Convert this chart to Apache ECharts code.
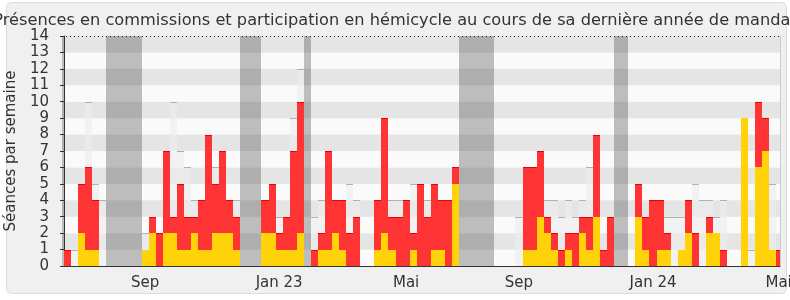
<!DOCTYPE html>
<html><head><meta charset="utf-8">
<script src="https://cdn.jsdelivr.net/npm/echarts@6/dist/echarts.min.js"></script>
<style>html,body{margin:0;padding:0;background:#fff}#c{width:790px;height:300px}</style>
</head><body><div id="c"></div>
<script>
// Weekly values (week index 0..101)
const hemicycle   = [0,0,2,1,1,0,0,0,0,0, 0,1,2,0,2,2,1,1,2,1, 1,2,2,2,1,0,0,0,2,2, 1,1,1,2,0,0,1,1,2,1, 0,0,0,0,1,2,1,0,0,1, 0,0,1,1,0,5,0,0,0,0, 0,0,0,0,0,1,1,3,2,1, 0,1,0,2,1,3,0,0,0,0, 0,3,1,0,1,1,0,1,2,0, 0,2,2,0,0,0,9,0,6,7, 1,0];
const commissions = [1,0,3,5,3,0,0,0,0,0, 0,0,1,2,5,1,4,2,1,3, 7,3,5,2,2,0,0,0,2,3, 1,2,6,8,0,1,1,6,2,3, 2,3,0,0,3,7,2,3,4,1, 5,3,4,3,4,1,0,0,0,0, 0,0,0,0,0,5,5,4,1,1, 1,1,2,1,2,5,1,3,0,0, 0,2,2,4,3,1,0,0,2,2, 0,1,0,1,0,0,0,0,4,2, 0,1];
const mediane     = [0,1,0,10,5,4,0,0,0,0, 0,2,0,0,0,10,7,6,4,0, 0,6,0,0,4,0,0,0,0,0, 3,0,9,12,0,3,4,0,0,0, 5,4,0,0,0,0,4,4,0,5, 0,4,0,0,0,0,0,0,0,0, 0,0,0,0,3,0,0,0,4,4, 3,4,3,4,6,0,0,0,0,0, 0,0,0,0,0,3,3,3,0,5, 4,4,3,4,0,0,0,1,0,0, 5,0];
// Vacation periods [start week, end week)
const vacationStart = [-1, 6, 25, 34, 56, 78];
const vacationEnd   = [ 0, 11, 28, 35, 61, 80];
// X tick labels at week indices
const tickWeeks  = [11, 30, 48, 64, 83, 101];
const tickLabels = ['Sep', 'Jan 23', 'Mai', 'Sep', 'Jan 24', 'Mai'];

const X_MIN = -0.28, X_MAX = 101.5;
const weeks = hemicycle.map((_, i) => i);
const FONT = 'DejaVu Sans';
const chart = echarts.init(document.getElementById('c'), null, {renderer: 'canvas'});

// label positions: centre of the week, kept inside the visible range
const tickPos = tickWeeks.map(k => Math.min(k + 0.5, X_MAX - 0.2));

function box(api, params, x0, x1, y0, y1) {
  const a = api.coord([x0, y1]), b = api.coord([x1, y0]);
  const cs = params.coordSys;
  const l = Math.round(a[0]), r = Math.round(b[0]), t = Math.round(a[1]), bt = Math.round(b[1]);
  return echarts.graphic.clipRectByRect(
    {x: l, y: t, width: r - l, height: bt - t},
    {x: cs.x, y: cs.y, width: cs.width, height: cs.height});
}

chart.setOption({
  animation: false,
  backgroundColor: 'transparent',
  graphic: [{
    type: 'rect', z: -10, silent: true,
    shape: {x: 6.5, y: 2.5, width: 780, height: 291, r: 5},
    style: {fill: '#F0F0F0', stroke: '#DCDCDC', lineWidth: 1}
  }],
  title: {
    text: 'Présences en commissions et participation en hémicycle au cours de sa dernière année de mandat',
    left: 'center', top: 8,
    textStyle: {fontFamily: FONT, fontSize: 16.2, fontWeight: 'normal', color: '#333'}
  },
  grid: {left: 62, right: 10, top: 36, bottom: 34, containLabel: false, outerBoundsMode: 'none'},
  xAxis: {
    type: 'value', min: X_MIN, max: X_MAX,
    axisLine: {show: true, onZero: false, lineStyle: {color: '#333', width: 1}},
    axisTick: {show: false},
    splitLine: {show: false},
    axisLabel: {
      customValues: tickPos,
      formatter: v => { const i = tickPos.findIndex(p => Math.abs(p - v) < 0.01); return i >= 0 ? tickLabels[i] : ''; },
      fontFamily: FONT, fontSize: 15, color: '#333', margin: 10,
      showMinLabel: true, showMaxLabel: true, hideOverlap: false
    }
  },
  yAxis: [{
    type: 'value', min: 0, max: 14, interval: 1,
    name: 'Séances par semaine', nameLocation: 'middle', nameGap: 39,
    nameTextStyle: {fontFamily: FONT, fontSize: 15, color: '#333'},
    axisLine: {show: true, lineStyle: {color: '#333', width: 1}},
    axisTick: {show: true, length: 4, lineStyle: {color: '#333'}},
    axisLabel: {fontFamily: FONT, fontSize: 15, color: '#333', margin: 13},
    splitLine: {show: false},
    splitArea: {show: true, areaStyle: {color: ['#FAFAFA', '#E5E5E5']}}
  }, {
    type: 'value', min: 0, max: 14, interval: 1, position: 'right',
    axisLine: {show: true, lineStyle: {color: '#CBCBCB', width: 1}},
    axisTick: {show: false}, axisLabel: {show: false}, splitLine: {show: false}
  }],
  series: [
    {
      type: 'custom', name: 'Vacances',
      data: vacationStart.map((s, i) => [s, vacationEnd[i]]),
      encode: {x: [0, 1]},
      renderItem(params, api) {
        const s = box(api, params, api.value(0), api.value(1), 0, 14);
        return s && {type: 'rect', shape: s, style: {fill: 'rgba(40,40,40,0.29)'}};
      },
      markLine: {
        silent: true, symbol: 'none', label: {show: false},
        lineStyle: {type: [1, 3], color: '#222', width: 1},
        data: [{yAxis: 14}]
      }
    },
    {
      type: 'custom', name: 'Médiane',
      data: weeks.map(k => [k, mediane[k]]),
      encode: {x: 0, y: 1},
      renderItem(params, api) {
        const k = api.value(0), v = api.value(1);
        if (!v) return null;
        const s = box(api, params, k, k + 1, 0, v);
        if (!s) return null;
        return {type: 'group', children: [
          {type: 'rect', shape: s, style: {fill: 'rgba(236,236,236,0.6)'}},
          {type: 'rect', shape: {x: s.x, y: s.y, width: s.width, height: 1}, style: {fill: '#B0B0B0'}}
        ]};
      }
    },
    {
      type: 'custom', name: 'Hémicycle',
      data: weeks.map(k => [k, hemicycle[k]]),
      encode: {x: 0, y: 1},
      renderItem(params, api) {
        const k = api.value(0), v = api.value(1);
        if (!v) return null;
        const s = box(api, params, k, k + 1, 0, v);
        return s && {type: 'rect', shape: s, style: {fill: '#FFD20A'}};
      }
    },
    {
      type: 'custom', name: 'Commissions',
      data: weeks.map(k => [k, hemicycle[k], commissions[k]]),
      encode: {x: 0, y: [1, 2]},
      renderItem(params, api) {
        const k = api.value(0), h = api.value(1), c = api.value(2);
        if (!c) return null;
        const s = box(api, params, k, k + 1, h, h + c);
        if (!s) return null;
        return {type: 'group', children: [
          {type: 'rect', shape: s, style: {fill: '#FF3535'}},
          {type: 'rect', shape: {x: s.x, y: s.y, width: s.width, height: 1}, style: {fill: '#EE0000'}}
        ]};
      }
    }
  ]
});
</script>
</body></html>
